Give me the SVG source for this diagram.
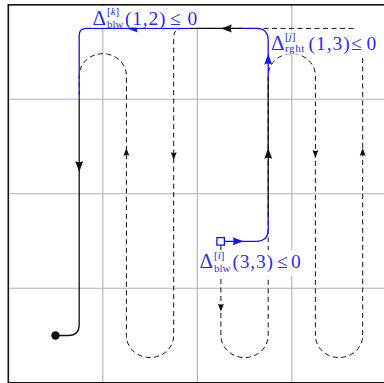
<svg xmlns="http://www.w3.org/2000/svg" width="384" height="383" viewBox="0 0 384 383">
<style>
.grid{stroke:#b0b0b0;stroke-width:1.1;fill:none}
.frame{stroke:#111;stroke-width:1.6;fill:none}
.dash{stroke:#111;stroke-width:1;fill:none;stroke-dasharray:5 3.5}
.blk{stroke:#111;stroke-width:1.3;fill:none}
.blu{stroke:#1010ff;stroke-width:1.3;fill:none}
.bg{fill:#fff}
.lbl{font-family:"Liberation Serif",serif;fill:#2a2aff;font-size:19.5px}
.dl{font-size:21px}
.scr{font-size:11px}
.it{font-style:italic}
</style>
<defs>
<path id="ah" d="M0,0 L-11,-4 Q-8.5,0 -11,4 Z"/>
<path id="ahs" d="M0,0 L-8,-3 Q-6.2,0 -8,3 Z"/>
</defs>
<g id="grid">
<line class="grid" x1="102.8" y1="4.8" x2="102.8" y2="382.8"/>
<line class="grid" x1="197.3" y1="4.8" x2="197.3" y2="382.8"/>
<line class="grid" x1="291.8" y1="4.8" x2="291.8" y2="382.8"/>
<line class="grid" x1="8.3" y1="99.3" x2="386.3" y2="99.3"/>
<line class="grid" x1="8.3" y1="193.8" x2="386.3" y2="193.8"/>
<line class="grid" x1="8.3" y1="288.3" x2="386.3" y2="288.3"/>
</g>
<g id="connectors">
<path class="dash" d="M220.9 245 V335.5 A23.6 22 0 0 0 268.2 335.5 V75.7 A23.6 22 0 0 1 315.4 75.7 V335.5 A23.6 22 0 0 0 362.7 335.5 V54 M353.5 28.4 H182.7 Q173.7 28.4 173.7 37.4 V335.5 A23.6 22 0 0 1 126.4 335.5 V75.7 A23.6 22 0 0 0 79.2 75.7 V95"/>
<g fill="#111">
<use href="#ahs" transform="translate(126.4,148) rotate(-90)"/>
<use href="#ahs" transform="translate(173.7,160) rotate(90)"/>
<use href="#ahs" transform="translate(315.4,158) rotate(90)"/>
<use href="#ahs" transform="translate(362.7,148) rotate(-90)"/>
<use href="#ahs" transform="translate(220.9,311.7) rotate(90)"/>
</g>
<path class="blu" d="M224.6 241.3 H256.2 Q268.2 241.3 268.2 229.3 V218"/>
<path class="blk" d="M268.2 218 V78"/>
<path class="blu" d="M268.2 78 V40.4 Q268.2 28.4 256.2 28.4 H243"/>
<path class="blk" d="M243 28.4 H190"/>
<path class="blu" d="M190 28.4 H86.2 Q79.2 28.4 79.2 35.4 V100"/>
<path class="blk" d="M79.2 100 V324.5 Q79.2 335.5 68.2 335.5 H55.5"/>
<g fill="#111">
<use href="#ah" transform="translate(79.2,172) rotate(90)"/>
<use href="#ah" transform="translate(268.2,148) rotate(-90)"/>
<use href="#ah" transform="translate(221,28.4) rotate(180)"/>
</g>
<g fill="#1010ff">
<use href="#ah" transform="translate(127,28.4) rotate(180)"/>
<use href="#ah" transform="translate(268.2,53.7) rotate(-90)"/>
<use href="#ah" transform="translate(243.5,241.3)"/>
</g>
</g>
<g id="start">
<rect x="216.9" y="237.6" width="7.5" height="7.5" fill="#fff" stroke="#1010ff" stroke-width="1.3"/>
</g>
<g id="end">
<circle cx="55.5" cy="335.5" r="4.2" fill="#111"/>
</g>
<g id="label-k">
<rect class="bg" x="91" y="6.2" width="108" height="21.3"/>
<text class="lbl" y="25"><tspan x="92.5" class="dl">Δ</tspan><tspan x="107" y="15" class="scr">[<tspan class="it">k</tspan>]</tspan><tspan x="107" y="28" class="scr">blw</tspan><tspan x="125" y="25" letter-spacing="0.8">(1,2)</tspan><tspan x="170">≤</tspan><tspan x="187.5">0</tspan></text>
</g>
<g id="label-j">
<rect class="bg" x="269.6" y="30.6" width="112" height="24"/>
<text class="lbl" y="49.5"><tspan x="271" class="dl">Δ</tspan><tspan x="285" y="39.5" class="scr">[<tspan class="it">j</tspan>]</tspan><tspan x="285" y="52" class="scr" letter-spacing="0.6">rght</tspan><tspan x="308.5" y="49.5" letter-spacing="1">(1,3)</tspan><tspan x="351">≤</tspan><tspan x="366.5">0</tspan></text>
</g>
<g id="label-i">
<rect class="bg" x="198" y="250" width="104" height="26"/>
<text class="lbl" y="268.3"><tspan x="199.5" class="dl">Δ</tspan><tspan x="214" y="258.5" class="scr">[<tspan class="it">i</tspan>]</tspan><tspan x="214" y="271.5" class="scr">blw</tspan><tspan x="232.5" y="268.3" letter-spacing="0.8">(3,3)</tspan><tspan x="277">≤</tspan><tspan x="291">0</tspan></text>
</g>
<rect class="frame" x="8.3" y="4.8" width="378" height="378"/>
</svg>
